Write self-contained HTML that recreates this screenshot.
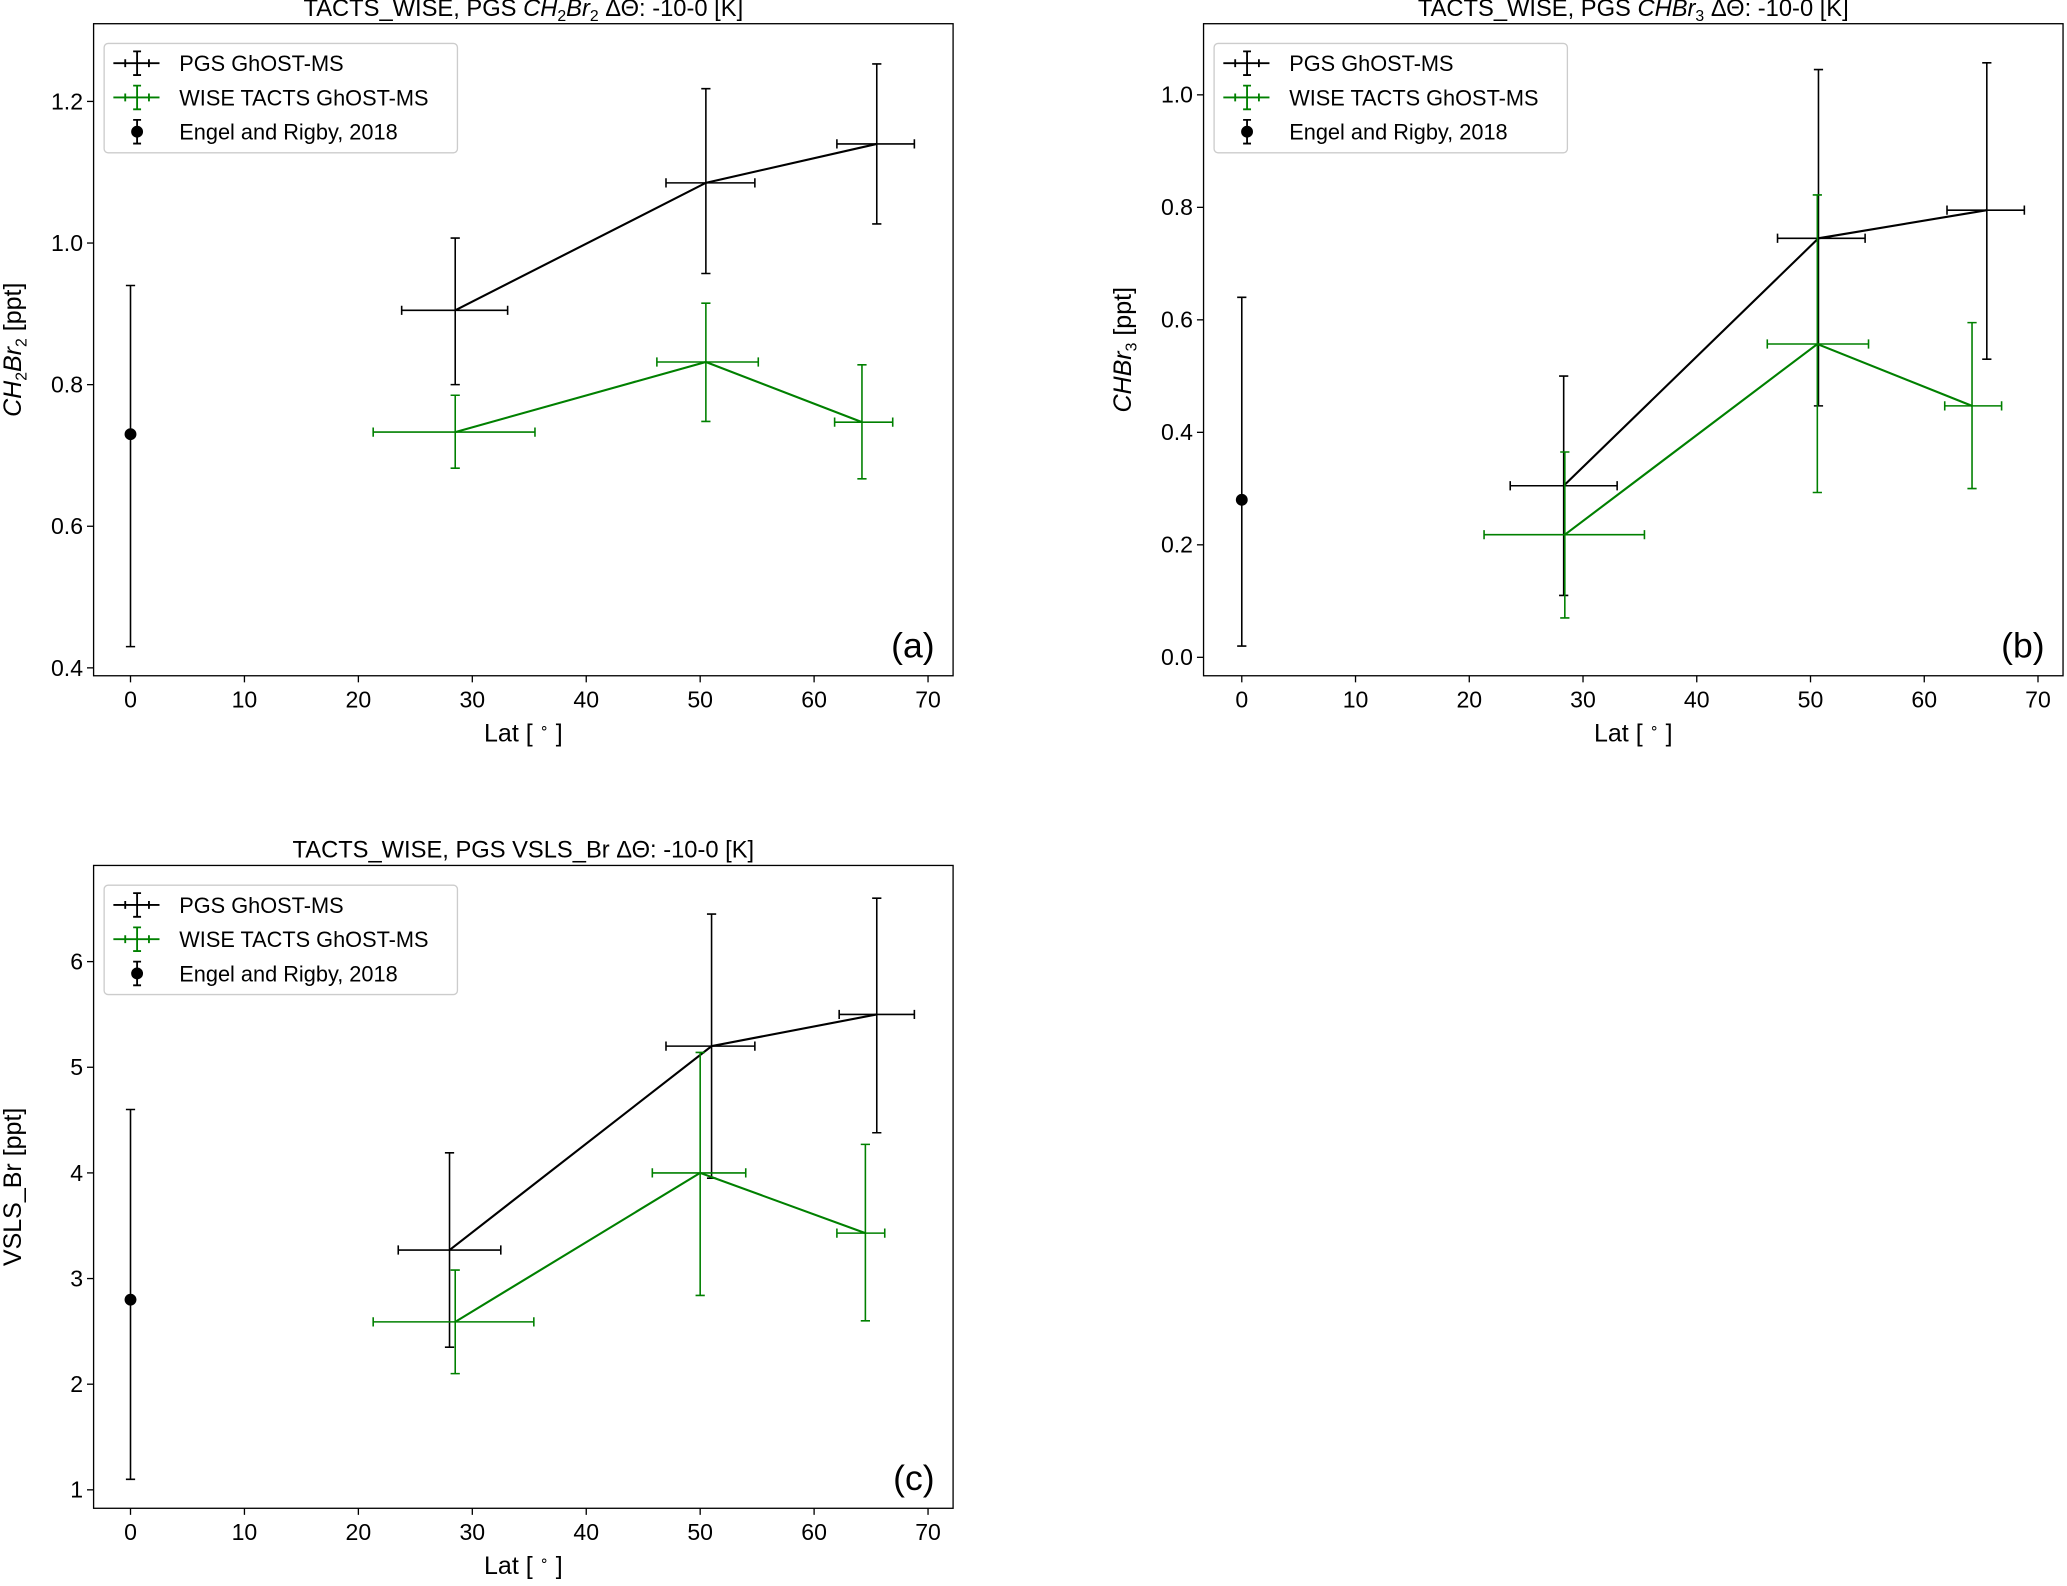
<!DOCTYPE html>
<html><head><meta charset="utf-8"><style>
html,body{margin:0;padding:0;background:#fff;}
svg{display:block;font-family:"Liberation Sans",sans-serif;}
</style></head><body>
<svg id="fig" width="2067" height="1586" viewBox="0 0 1568 1204" preserveAspectRatio="none" xmlns="http://www.w3.org/2000/svg"></svg>
<script>
// Panel (a) CH2Br2
const aBlackX=[28.5,50.5,65.5], aBlackY=[0.905,1.085,1.14];
const aBlackXlo=[23.8,47.0,62.0], aBlackXhi=[33.1,54.8,68.8];
const aBlackYlo=[0.80,0.957,1.027], aBlackYhi=[1.007,1.218,1.253];
const aGreenX=[28.5,50.5,64.2], aGreenY=[0.733,0.832,0.747];
const aGreenXlo=[21.3,46.2,61.8], aGreenXhi=[35.5,55.1,66.9];
const aGreenYlo=[0.682,0.748,0.667], aGreenYhi=[0.785,0.915,0.828];
const aEngel=[0,0.73,0.43,0.94];
const aYTicks=[0.4,0.6,0.8,1.0,1.2];
// Panel (b) CHBr3
const bBlackX=[28.3,50.7,65.5], bBlackY=[0.305,0.745,0.795];
const bBlackXlo=[23.6,47.1,62.0], bBlackXhi=[33.0,54.8,68.8];
const bBlackYlo=[0.11,0.447,0.53], bBlackYhi=[0.50,1.045,1.057];
const bGreenX=[28.4,50.6,64.2], bGreenY=[0.218,0.557,0.447];
const bGreenXlo=[21.3,46.2,61.8], bGreenXhi=[35.4,55.1,66.8];
const bGreenYlo=[0.07,0.293,0.30], bGreenYhi=[0.365,0.822,0.595];
const bEngel=[0,0.28,0.02,0.64];
const bYTicks=[0.0,0.2,0.4,0.6,0.8,1.0];
// Panel (c) VSLS_Br
const cBlackX=[28.0,51.0,65.5], cBlackY=[3.27,5.2,5.5];
const cBlackXlo=[23.5,47.0,62.2], cBlackXhi=[32.5,54.8,68.8];
const cBlackYlo=[2.35,3.95,4.38], cBlackYhi=[4.19,6.45,6.60];
const cGreenX=[28.5,50.0,64.5], cGreenY=[2.59,4.0,3.43];
const cGreenXlo=[21.3,45.8,62.0], cGreenXhi=[35.4,54.0,66.2];
const cGreenYlo=[2.10,2.84,2.60], cGreenYhi=[3.08,5.14,4.27];
const cEngel=[0,2.8,1.1,4.6];
const cYTicks=[1,2,3,4,5,6];
const xTicks=[0,10,20,30,40,50,60,70];

const NS="http://www.w3.org/2000/svg";
const svg=document.getElementById('fig');
function el(tag,attrs,parent){const e=document.createElementNS(NS,tag);for(const k in attrs)e.setAttribute(k,attrs[k]);(parent||svg).appendChild(e);return e;}

function panel(cfg){
  const g=el('g',{});
  
  
  const L=cfg.L,R=cfg.R,T=cfg.T,B=cfg.B;
  const sx=v=>cfg.x0+(v)*(cfg.x70-cfg.x0)/70;
  const sy=v=>cfg.yp0+(v-cfg.yv0)*(cfg.yp1-cfg.yp0)/(cfg.yv1-cfg.yv0);
  const t=el('text',{x:(L+R)/2,y:T-6,'text-anchor':'middle','font-size':18},g);
  
  
  t.innerHTML=cfg.title;
  xTicks.forEach(v=>{const x=sx(v);el('line',{x1:x,x2:x,y1:B,y2:B+5,stroke:'#000','stroke-width':1},g);
    const tl=el('text',{x:x,y:B+24,'text-anchor':'middle','font-size':17.5},g);tl.textContent=v;
    
    });
  cfg.yticks.forEach(v=>{const y=sy(v);el('line',{x1:L-5,x2:L,y1:y,y2:y,stroke:'#000','stroke-width':1},g);
    const tl=el('text',{x:L-8,y:y+6,'text-anchor':'end','font-size':17.5},g);tl.textContent=cfg.fmt(v);
    
    });
  const xl=el('text',{x:(L+R)/2,y:B+50,'text-anchor':'middle','font-size':19},g);
  
  
  xl.innerHTML='Lat [ <tspan font-size="11" dy="-7">∘</tspan><tspan dy="7"> ]</tspan>';
  const yl=el('text',{x:0,y:0,'text-anchor':'middle','font-size':19,transform:`translate(${L-55},${(T+B)/2}) rotate(-90)`},g);
  
  
  yl.innerHTML=cfg.ylabel;
  function series(X,Y,Xlo,Xhi,Ylo,Yhi,col,nm){
    const sg=el('g',{},g);
    
    
    const pts=X.map((x,i)=>sx(x)+','+sy(Y[i])).join(' ');
    el('polyline',{points:pts,fill:'none',stroke:col,'stroke-width':1.6},sg);
    X.forEach((x,i)=>{
      const px=sx(x),py=sy(Y[i]);
      const y1=sy(Ylo[i]),y2=sy(Yhi[i]),x1=sx(Xlo[i]),x2=sx(Xhi[i]);
      el('path',{d:`M${px},${y1}V${y2}M${px-3.5},${y1}h7M${px-3.5},${y2}h7M${x1},${py}H${x2}M${x1},${py-3.5}v7M${x2},${py-3.5}v7`,stroke:col,'stroke-width':1.2,fill:'none'},sg);
    });
  }
  series(cfg.bx,cfg.by,cfg.bxlo,cfg.bxhi,cfg.bylo,cfg.byhi,'#000','pgs-series');
  series(cfg.gx,cfg.gy,cfg.gxlo,cfg.gxhi,cfg.gylo,cfg.gyhi,'#008000','wise-tacts-series');
  const E=cfg.engel, ex=sx(E[0]);
  const eg=el('g',{},g);
  
  
  el('path',{d:`M${ex},${sy(E[2])}V${sy(E[3])}M${ex-3.5},${sy(E[2])}h7M${ex-3.5},${sy(E[3])}h7`,stroke:'#000','stroke-width':1.2},eg);
  el('circle',{cx:ex,cy:sy(E[1]),r:4.5,fill:'#000'},eg);
  el('rect',{x:L,y:T,width:R-L,height:B-T,fill:'none',stroke:'#000','stroke-width':1},g);
  const pl=el('text',{x:R-14,y:B-14,'text-anchor':'end','font-size':27},g);
  pl.textContent=cfg.letter;
  
  
  const lg=el('g',{},g);
  
  
  el('rect',{x:L+8,y:T+15,width:268,height:83,rx:3,fill:'#fff',stroke:'#ccc','stroke-width':1},lg);
  const items=[['PGS GhOST-MS','#000','pgs'],['WISE TACTS GhOST-MS','#008000','wise'],['Engel and Rigby, 2018','#000','engel']];
  items.forEach((it,i)=>{
    const cy=T+30+i*26, cx=L+33;
    const le=el('g',{},lg);
    
    
    if(it[2]!=='engel'){
      el('path',{d:`M${cx-18},${cy}H${cx+17}M${cx},${cy-9}V${cy+9}M${cx-3},${cy-9}h6M${cx-3},${cy+9}h6M${cx-9},${cy-3}v6M${cx+9},${cy-3}v6`,stroke:it[1],'stroke-width':1.4,fill:'none'},le);
    } else {
      el('path',{d:`M${cx},${cy-9}V${cy+9}M${cx-3},${cy-9}h6M${cx-3},${cy+9}h6`,stroke:'#000','stroke-width':1.4},le);
      el('circle',{cx:cx,cy:cy,r:4.5,fill:'#000'},le);
    }
    const tx=el('text',{x:L+65,y:cy+6,'font-size':16.5},le);tx.textContent=it[0];
  });
}

panel({name:'panel-a-ch2br2',L:71,R:723,T:18,B:513,x0:99,x70:704,yv0:0.4,yp0:507,yv1:1.2,yp1:77,yticks:aYTicks,fmt:v=>v.toFixed(1),
  title:'TACTS_WISE, PGS <tspan font-style="italic">CH</tspan><tspan font-size="12" dy="4">2</tspan><tspan dy="-4" font-style="italic">Br</tspan><tspan font-size="12" dy="4">2</tspan><tspan dy="-4"> ΔΘ: -10-0 [K]</tspan>',
  ylabel:'<tspan font-style="italic">CH</tspan><tspan font-size="12" dy="4">2</tspan><tspan dy="-4" font-style="italic">Br</tspan><tspan font-size="12" dy="4">2</tspan><tspan dy="-4"> [ppt]</tspan>',
  letter:'(a)',bx:aBlackX,by:aBlackY,bxlo:aBlackXlo,bxhi:aBlackXhi,bylo:aBlackYlo,byhi:aBlackYhi,
  gx:aGreenX,gy:aGreenY,gxlo:aGreenXlo,gxhi:aGreenXhi,gylo:aGreenYlo,gyhi:aGreenYhi,engel:aEngel});
panel({name:'panel-b-chbr3',L:913,R:1565,T:18,B:513,x0:942,x70:1546,yv0:0.0,yp0:499,yv1:1.0,yp1:72,yticks:bYTicks,fmt:v=>v.toFixed(1),
  title:'TACTS_WISE, PGS <tspan font-style="italic">CHBr</tspan><tspan font-size="12" dy="4">3</tspan><tspan dy="-4"> ΔΘ: -10-0 [K]</tspan>',
  ylabel:'<tspan font-style="italic">CHBr</tspan><tspan font-size="12" dy="4">3</tspan><tspan dy="-4"> [ppt]</tspan>',
  letter:'(b)',bx:bBlackX,by:bBlackY,bxlo:bBlackXlo,bxhi:bBlackXhi,bylo:bBlackYlo,byhi:bBlackYhi,
  gx:bGreenX,gy:bGreenY,gxlo:bGreenXlo,gxhi:bGreenXhi,gylo:bGreenYlo,gyhi:bGreenYhi,engel:bEngel});
panel({name:'panel-c-vsls-br',L:71,R:723,T:657,B:1145,x0:99,x70:704,yv0:1,yp0:1131,yv1:6,yp1:730,yticks:cYTicks,fmt:v=>String(v),
  title:'TACTS_WISE, PGS VSLS_Br ΔΘ: -10-0 [K]',
  ylabel:'VSLS_Br [ppt]',
  letter:'(c)',bx:cBlackX,by:cBlackY,bxlo:cBlackXlo,bxhi:cBlackXhi,bylo:cBlackYlo,byhi:cBlackYhi,
  gx:cGreenX,gy:cGreenY,gxlo:cGreenXlo,gxhi:cGreenXhi,gylo:cGreenYlo,gyhi:cGreenYhi,engel:cEngel});
</script>
</body></html>
